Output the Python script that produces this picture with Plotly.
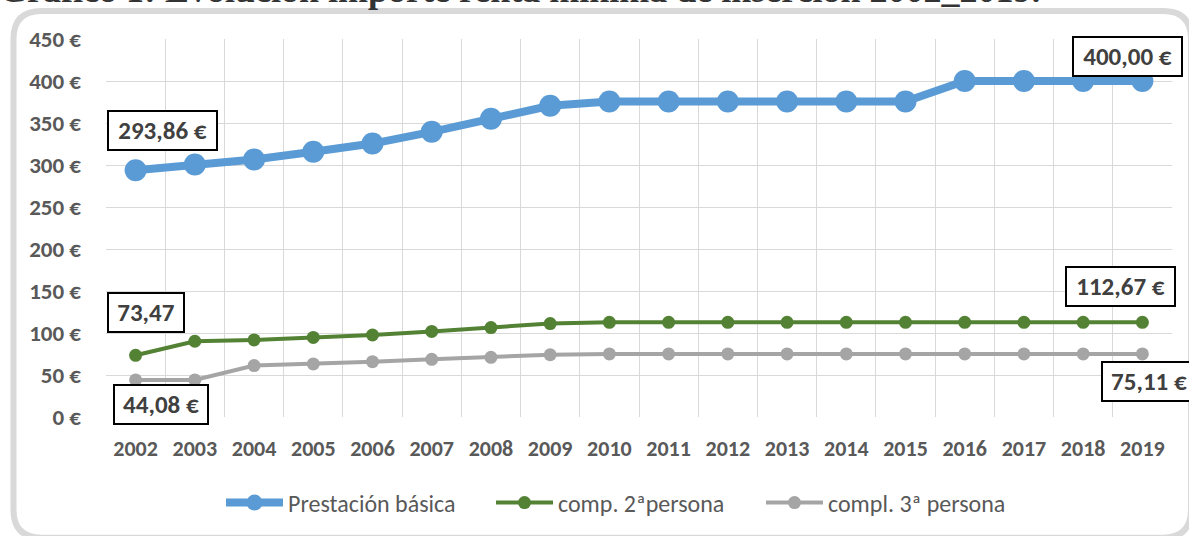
import plotly.graph_objects as go

years = [str(y) for y in range(2002, 2020)]
basica = [293.86, 300.5, 306.5, 315.7, 325.5, 339.5, 355.0, 370.5, 375.55, 375.55, 375.55, 375.55, 375.55, 375.55, 400.0, 400.0, 400.0, 400.0]
comp2 = [73.47, 90.2, 91.8, 94.7, 97.6, 101.9, 106.5, 111.2, 112.67, 112.67, 112.67, 112.67, 112.67, 112.67, 112.67, 112.67, 112.67, 112.67]
comp3 = [44.08, 44.08, 61.2, 63.2, 65.9, 68.7, 71.0, 74.1, 75.11, 75.11, 75.11, 75.11, 75.11, 75.11, 75.11, 75.11, 75.11, 75.11]
yticks = [0, 50, 100, 150, 200, 250, 300, 350, 400, 450]
ytext = [f"{v} €" for v in yticks]
title_text = "Gráfico 1: Evolución importe renta mínima de inserción 2002_2019."

FONT = "Carlito, 'Liberation Sans Narrow', 'DejaVu Sans Condensed', sans-serif"
TXT = "#595959"

W, H = 1189, 536
L, R, T, B = 106, 17, 39, 118
pw, ph = W - L - R, H - T - B


def px(x):
    return (x - L) / pw


def py(y):
    return (H - B - y) / ph


fig = go.Figure()
fig.add_trace(go.Scatter(x=years, y=basica, name="Prestación básica", mode="lines+markers",
                         line=dict(color="#5B9BD5", width=8), marker=dict(size=22, color="#5B9BD5")))
fig.add_trace(go.Scatter(x=years, y=comp2, name="comp. 2ªpersona", mode="lines+markers",
                         line=dict(color="#548235", width=4), marker=dict(size=13, color="#548235")))
fig.add_trace(go.Scatter(x=years, y=comp3, name="compl. 3ª persona", mode="lines+markers",
                         line=dict(color="#A5A5A5", width=4), marker=dict(size=13, color="#A5A5A5")))


def label(i, y, text, xs, ys, w):
    fig.add_annotation(x=i, y=y, xref="x", yref="y", text=f"<b>{text}</b>", showarrow=False,
                       xshift=xs, yshift=ys, width=w, height=35, align="center", valign="middle",
                       font=dict(family=FONT, size=25, color="#404040"), bgcolor="white",
                       bordercolor="black", borderwidth=2, borderpad=1)


first, last = 0, len(years) - 1
label(first, basica[first], "293,86 €", 27, 40, 105)
label(first, comp2[first], "73,47", 10, 43, 72)
label(first, comp3[first], "44,08 €", 25, -25, 90)
label(last, basica[last], "400,00 €", -15, 25, 105)
label(last, comp2[last], "112,67 €", -22, 36, 105)
label(last, comp3[last], "75,11 €", 7, -28, 90)

# rounded chart border
xa, xb, ya, yb, rr = 13.5, 1191, 11, 539, 28
path = (f"M {px(xa)} {py(ya + rr)} Q {px(xa)} {py(ya)} {px(xa + rr)} {py(ya)} "
        f"L {px(xb - rr)} {py(ya)} Q {px(xb)} {py(ya)} {px(xb)} {py(ya + rr)} "
        f"L {px(xb)} {py(yb - rr)} Q {px(xb)} {py(yb)} {px(xb - rr)} {py(yb)} "
        f"L {px(xa + rr)} {py(yb)} Q {px(xa)} {py(yb)} {px(xa)} {py(yb - rr)} Z")
fig.add_shape(type="path", path=path, xref="paper", yref="paper",
              line=dict(color="#D9D9D9", width=6), layer="below")

fig.add_annotation(text=f"<b>{title_text}</b>", xref="paper", yref="paper", x=px(-2), y=py(11),
                   xanchor="left", yanchor="bottom", showarrow=False, borderpad=0,
                   font=dict(family="'Liberation Serif', 'DejaVu Serif', serif", size=36, color="#333333"))

fig.update_layout(
    width=W, height=H, margin=dict(l=L, r=R, t=T, b=B),
    paper_bgcolor="white", plot_bgcolor="white",
    xaxis=dict(type="category", tickson="boundaries", showgrid=True, gridcolor="#D9D9D9", gridwidth=1,
               showline=False, ticks="", tickfont=dict(family=FONT, size=22, color=TXT),
               tickvals=years, ticktext=[f"<b>{y}</b>" for y in years],
               ticklabelstandoff=16, range=[-0.5, 17.5]),
    yaxis=dict(range=[0, 450], tickvals=yticks, ticktext=[f"<b>{t}</b>" for t in ytext],
               showgrid=True, gridcolor="#D9D9D9", gridwidth=1, zeroline=False, showline=False,
               tickfont=dict(family=FONT, size=23, color=TXT), ticklabelstandoff=24),
    legend=dict(orientation="h", x=px(626), xanchor="center", y=py(503), yanchor="middle",
                font=dict(family=FONT, size=24, color=TXT), itemwidth=57, traceorder="normal",
                entrywidth=198),
    showlegend=True,
)

fig.write_html("out.html", config={"displayModeBar": False},
               post_script="document.body.style.margin='0px';")
